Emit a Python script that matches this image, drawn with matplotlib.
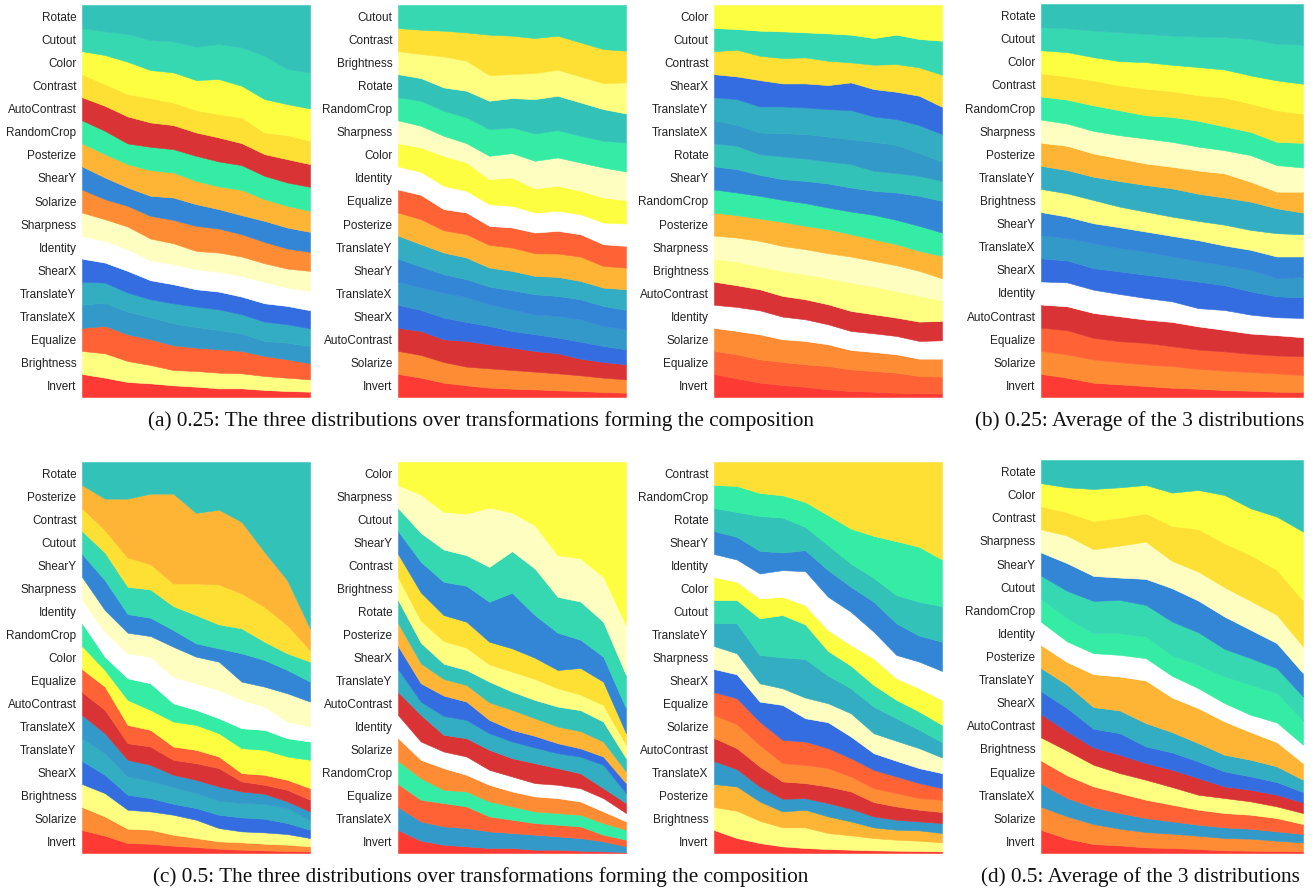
import numpy as np
import matplotlib
matplotlib.use("Agg")
import matplotlib.pyplot as plt

# Fixed colour for every transformation, shared by all panels
COLORS = {
    "Invert": "#fe3a35",
    "AutoContrast": "#d93335",
    "Equalize": "#fe6235",
    "Solarize": "#fe8c35",
    "Posterize": "#feb535",
    "Contrast": "#fee035",
    "Color": "#fefe40",
    "Brightness": "#fefe80",
    "Sharpness": "#fefec0",
    "Identity": "#ffffff",
    "ShearX": "#336de0",
    "ShearY": "#3385d6",
    "TranslateX": "#3399c8",
    "TranslateY": "#33adc2",
    "Rotate": "#33c2b8",
    "Cutout": "#35d8b0",
    "RandomCrop": "#35eca5",
}

steps = np.arange(11)

# Relative weight of each transformation over training, listed from the top of the stack down
dist_a1 = {
    "Rotate":       [69, 79, 87, 105, 109, 125, 117, 127, 152, 192, 202],
    "Cutout":       [69, 71, 83, 90, 93, 100, 105, 115, 130, 105, 108],
    "Color":        [69, 87, 97, 84, 90, 90, 105, 95, 100, 93, 97],
    "Contrast":     [69, 65, 67, 73, 68, 67, 70, 77, 65, 72, 70],
    "AutoContrast": [69, 75, 81, 73, 72, 70, 72, 66, 65, 70, 68],
    "RandomCrop":   [69, 70, 62, 70, 70, 75, 75, 74, 70, 70, 72],
    "Posterize":    [69, 70, 70, 77, 75, 70, 68, 76, 65, 65, 63],
    "ShearY":       [69, 65, 55, 60, 67, 65, 58, 57, 63, 63, 60],
    "Solarize":     [69, 60, 62, 68, 70, 75, 72, 67, 64, 60, 57],
    "Sharpness":    [69, 65, 68, 65, 63, 55, 58, 58, 56, 57, 60],
    "Identity":     [69, 65, 65, 60, 60, 60, 59, 62, 64, 55, 58],
    "ShearX":       [69, 60, 65, 57, 57, 52, 53, 53, 55, 55, 54],
    "TranslateY":   [69, 60, 57, 53, 60, 61, 62, 57, 58, 55, 53],
    "TranslateX":   [69, 70, 68, 67, 66, 62, 58, 53, 45, 50, 52],
    "Equalize":     [69, 82, 80, 77, 74, 70, 70, 67, 60, 55, 48],
    "Brightness":   [69, 73, 63, 55, 46, 47, 47, 45, 42, 40, 37],
    "Invert":       [69, 58, 45, 41, 35, 31, 26, 26, 21, 18, 16],
}

dist_a2 = {
    "Cutout":       [69, 74, 77, 82, 89, 92, 99, 92, 112, 132, 137],
    "Contrast":     [69, 73, 77, 85, 121, 115, 105, 102, 102, 102, 95],
    "Brightness":   [69, 72, 93, 90, 77, 72, 78, 78, 78, 78, 93],
    "Rotate":       [69, 68, 70, 80, 85, 88, 103, 103, 100, 95, 87],
    "RandomCrop":   [69, 75, 75, 77, 80, 77, 82, 82, 80, 80, 87],
    "Sharpness":    [69, 65, 60, 58, 70, 73, 83, 85, 85, 90, 86],
    "Color":        [69, 73, 90, 85, 75, 85, 72, 75, 70, 75, 70],
    "Identity":     [69, 69, 70, 65, 65, 65, 60, 60, 60, 65, 67],
    "Equalize":     [69, 73, 63, 65, 57, 60, 62, 68, 67, 65, 65],
    "Posterize":    [69, 75, 67, 70, 68, 70, 68, 70, 73, 65, 65],
    "TranslateY":   [69, 67, 65, 65, 57, 58, 55, 57, 55, 55, 62],
    "ShearY":       [69, 63, 55, 53, 53, 57, 60, 60, 60, 60, 58],
    "TranslateX":   [69, 67, 75, 75, 65, 65, 60, 65, 67, 60, 60],
    "ShearX":       [69, 63, 65, 57, 55, 50, 50, 47, 51, 48, 45],
    "AutoContrast": [69, 72, 68, 77, 72, 67, 62, 60, 50, 47, 45],
    "Solarize":     [69, 68, 62, 56, 58, 56, 53, 51, 47, 43, 40],
    "Invert":       [69, 58, 43, 35, 28, 25, 23, 20, 18, 15, 13],
}

dist_a3 = {
    "Color":        [69, 72, 77, 79, 82, 85, 89, 99, 89, 102, 107],
    "Cutout":       [69, 62, 75, 80, 75, 82, 83, 80, 88, 85, 102],
    "Contrast":     [69, 80, 73, 76, 78, 73, 60, 73, 83, 85, 96],
    "ShearX":       [69, 68, 79, 69, 72, 72, 83, 82, 82, 88, 82],
    "TranslateY":   [69, 77, 78, 80, 80, 82, 87, 76, 77, 84, 82],
    "TranslateX":   [69, 63, 65, 70, 73, 75, 75, 87, 85, 68, 58],
    "Rotate":       [69, 70, 62, 68, 67, 66, 70, 60, 58, 60, 60],
    "ShearY":       [69, 70, 63, 62, 67, 72, 72, 72, 82, 90, 95],
    "RandomCrop":   [69, 68, 68, 66, 68, 65, 68, 73, 73, 75, 70],
    "Posterize":    [69, 67, 67, 72, 70, 72, 67, 65, 63, 60, 67],
    "Sharpness":    [69, 72, 77, 75, 75, 75, 78, 77, 77, 75, 66],
    "Brightness":   [69, 71, 68, 75, 75, 78, 85, 83, 80, 77, 62],
    "AutoContrast": [69, 65, 63, 62, 60, 60, 60, 57, 55, 58, 58],
    "Identity":     [69, 72, 72, 68, 65, 60, 57, 56, 55, 53, 55],
    "Solarize":     [69, 70, 75, 68, 70, 65, 58, 57, 55, 52, 54],
    "Equalize":     [69, 72, 70, 69, 67, 70, 65, 62, 60, 52, 50],
    "Invert":       [69, 56, 43, 36, 31, 23, 18, 16, 13, 11, 11],
}

dist_b = {
    "Rotate":       [69, 73, 80, 85, 90, 95, 98, 100, 105, 120, 122],
    "Cutout":       [69, 72, 80, 87, 85, 88, 92, 98, 110, 110, 118],
    "Color":        [69, 73, 70, 73, 80, 79, 85, 84, 85, 90, 90],
    "Contrast":     [69, 70, 75, 75, 80, 78, 77, 88, 85, 95, 88],
    "RandomCrop":   [69, 72, 77, 75, 70, 75, 78, 72, 70, 70, 74],
    "Sharpness":    [69, 67, 68, 70, 75, 75, 72, 70, 80, 80, 73],
    "Posterize":    [69, 73, 70, 68, 65, 65, 70, 73, 60, 50, 63],
    "TranslateY":   [69, 70, 70, 77, 80, 85, 82, 82, 85, 75, 65],
    "Brightness":   [69, 70, 70, 62, 60, 58, 58, 63, 60, 70, 67],
    "ShearY":       [69, 65, 60, 63, 60, 62, 63, 60, 60, 65, 62],
    "TranslateX":   [69, 67, 75, 70, 70, 65, 62, 60, 65, 55, 61],
    "ShearX":       [69, 66, 65, 68, 70, 70, 80, 75, 70, 63, 62],
    "Identity":     [69, 72, 70, 67, 65, 62, 55, 60, 57, 54, 58],
    "AutoContrast": [69, 72, 75, 75, 70, 73, 70, 65, 61, 61, 57],
    "Equalize":     [69, 73, 65, 63, 65, 60, 58, 58, 55, 54, 57],
    "Solarize":     [69, 70, 70, 67, 65, 65, 60, 59, 56, 55, 51],
    "Invert":       [69, 58, 43, 38, 33, 28, 25, 21, 19, 16, 15],
}

dist_c1 = {
    "Rotate":       [69, 110, 110, 95, 95, 153, 143, 180, 270, 355, 500],
    "Posterize":    [69, 95, 177, 212, 270, 212, 225, 215, 165, 135, 65],
    "Contrast":     [69, 67, 88, 76, 68, 95, 120, 105, 105, 85, 35],
    "Cutout":       [69, 83, 82, 85, 72, 85, 72, 75, 55, 50, 60],
    "ShearY":       [69, 90, 56, 55, 50, 40, 40, 85, 80, 70, 60],
    "Sharpness":    [69, 65, 62, 62, 90, 80, 85, 55, 60, 85, 75],
    "Identity":     [69, 75, 75, 80, 80, 80, 85, 85, 70, 50, 45],
    "RandomCrop":   [69, 40, 65, 80, 55, 45, 45, 60, 60, 55, 55],
    "Color":        [69, 50, 75, 60, 75, 75, 70, 75, 75, 70, 85],
    "Equalize":     [69, 70, 55, 50, 40, 40, 35, 25, 30, 30, 35],
    "AutoContrast": [69, 70, 50, 55, 45, 50, 55, 30, 27, 35, 35],
    "TranslateX":   [69, 60, 50, 48, 37, 40, 43, 35, 30, 20, 27],
    "TranslateY":   [69, 65, 55, 52, 50, 45, 42, 43, 45, 45, 28],
    "ShearX":       [69, 55, 45, 40, 33, 35, 40, 42, 41, 33, 25],
    "Brightness":   [69, 70, 57, 55, 60, 55, 40, 33, 34, 32, 25],
    "Solarize":     [69, 58, 43, 42, 33, 27, 22, 22, 20, 19, 15],
    "Invert":       [69, 52, 30, 28, 22, 18, 13, 10, 8, 6, 5],
}

dist_c2 = {
    "Color":        [69, 98, 150, 155, 137, 152, 190, 280, 290, 345, 490],
    "Sharpness":    [69, 115, 113, 125, 178, 116, 130, 125, 130, 135, 150],
    "Cutout":       [69, 87, 97, 92, 105, 125, 140, 108, 115, 105, 100],
    "ShearY":       [69, 92, 100, 108, 120, 167, 128, 112, 85, 75, 75],
    "Contrast":     [69, 85, 78, 78, 68, 70, 64, 55, 80, 70, 35],
    "Brightness":   [69, 66, 68, 67, 52, 60, 63, 55, 47, 50, 40],
    "Rotate":       [69, 62, 46, 45, 62, 55, 55, 60, 63, 60, 40],
    "Posterize":    [69, 60, 50, 50, 53, 60, 53, 50, 52, 45, 35],
    "ShearX":       [69, 55, 61, 55, 40, 35, 35, 30, 25, 25, 30],
    "TranslateY":   [69, 40, 57, 55, 50, 50, 47, 45, 50, 70, 30],
    "AutoContrast": [69, 80, 50, 55, 60, 55, 60, 50, 45, 30, 30],
    "Identity":     [69, 55, 50, 55, 45, 45, 40, 40, 40, 40, 25],
    "Solarize":     [69, 55, 65, 50, 50, 45, 45, 45, 40, 35, 25],
    "RandomCrop":   [69, 65, 40, 45, 45, 40, 35, 35, 35, 35, 30],
    "Equalize":     [69, 65, 70, 65, 45, 40, 35, 35, 35, 20, 20],
    "TranslateX":   [69, 58, 55, 55, 50, 45, 45, 40, 38, 30, 17],
    "Invert":       [69, 37, 25, 20, 15, 15, 10, 10, 7, 5, 3],
}

dist_c3 = {
    "Contrast":     [69, 72, 93, 100, 120, 160, 200, 222, 238, 255, 293],
    "RandomCrop":   [69, 78, 69, 67, 75, 90, 105, 126, 162, 165, 140],
    "Rotate":       [69, 75, 105, 105, 70, 75, 70, 72, 85, 102, 107],
    "ShearY":       [69, 68, 68, 53, 63, 80, 75, 90, 95, 78, 88],
    "Identity":     [69, 67, 75, 80, 102, 100, 100, 80, 70, 80, 87],
    "Color":        [69, 55, 60, 55, 58, 63, 62, 80, 65, 70, 75],
    "Cutout":       [69, 70, 110, 127, 104, 74, 68, 65, 55, 55, 52],
    "TranslateY":   [69, 90, 85, 93, 116, 83, 75, 80, 68, 55, 46],
    "Sharpness":    [69, 63, 55, 50, 62, 57, 70, 60, 60, 60, 47],
    "ShearX":       [69, 72, 60, 105, 70, 78, 65, 50, 47, 45, 45],
    "Equalize":     [69, 78, 70, 70, 70, 60, 55, 55, 50, 45, 35],
    "Solarize":     [69, 72, 65, 55, 55, 55, 45, 42, 40, 35, 37],
    "AutoContrast": [69, 63, 60, 52, 45, 50, 52, 43, 40, 35, 33],
    "TranslateX":   [69, 52, 45, 38, 35, 40, 38, 33, 30, 27, 30],
    "Posterize":    [69, 73, 58, 48, 53, 50, 42, 32, 30, 31, 28],
    "Brightness":   [69, 82, 67, 57, 62, 48, 43, 37, 33, 31, 27],
    "Invert":       [69, 45, 30, 20, 15, 12, 10, 8, 7, 6, 5],
}

dist_d = {
    "Rotate":       [69, 82, 87, 82, 75, 98, 90, 105, 145, 170, 215],
    "Color":        [69, 75, 96, 91, 85, 100, 117, 145, 140, 160, 207],
    "Contrast":     [69, 70, 85, 84, 85, 105, 128, 132, 138, 135, 138],
    "Sharpness":    [69, 83, 80, 96, 112, 82, 87, 88, 87, 85, 80],
    "ShearY":       [69, 83, 75, 67, 78, 100, 95, 97, 85, 75, 70],
    "Cutout":       [69, 82, 97, 100, 95, 102, 98, 83, 80, 75, 72],
    "RandomCrop":   [69, 70, 60, 65, 65, 61, 70, 80, 90, 88, 73],
    "Identity":     [69, 62, 63, 65, 67, 65, 60, 55, 52, 59, 55],
    "Posterize":    [69, 68, 99, 102, 128, 104, 105, 100, 83, 73, 50],
    "TranslateY":   [69, 70, 65, 68, 70, 61, 55, 50, 50, 47, 37],
    "ShearX":       [69, 70, 56, 65, 50, 52, 50, 45, 40, 38, 31],
    "AutoContrast": [69, 58, 52, 55, 50, 52, 50, 35, 35, 35, 32],
    "Brightness":   [69, 74, 65, 60, 60, 53, 45, 45, 40, 35, 33],
    "Equalize":     [69, 68, 63, 60, 55, 50, 45, 43, 42, 40, 30],
    "TranslateX":   [69, 55, 50, 47, 42, 37, 33, 32, 30, 28, 25],
    "Solarize":     [69, 67, 60, 50, 46, 43, 40, 37, 36, 31, 27],
    "Invert":       [69, 43, 27, 23, 17, 15, 12, 8, 7, 6, 5],
}

captions = [
    "(a) 0.25: The three distributions over transformations forming the composition",
    "(b) 0.25: Average of the 3 distributions",
    "(c) 0.5: The three distributions over transformations forming the composition",
    "(d) 0.5: Average of the 3 distributions",
]

W, H = 1315, 888
fig = plt.figure(figsize=(W / 100, H / 100), dpi=100)


def px_axes(x0, y0, x1, y1):
    return fig.add_axes([x0 / W, 1 - y1 / H, (x1 - x0) / W, (y1 - y0) / H])


def draw_stack(ax, dist):
    names = list(dist.keys())              # top of stack first
    vals = np.array([dist[n] for n in names], dtype=float)
    shares = vals / vals.sum(axis=0)
    bottom_up = names[::-1]
    data = shares[::-1]
    cols = [COLORS[n] for n in bottom_up]
    polys = ax.stackplot(steps, data, colors=cols, linewidth=0.4)
    for p, c in zip(polys, cols):
        p.set_edgecolor(c)
    ax.set_xlim(steps[0], steps[-1])
    ax.set_ylim(0, 1)
    n = len(names)
    ax.set_yticks([1 - (i + 0.5) / n for i in range(n)])
    ax.set_yticklabels(names, fontsize=8.5, family="Liberation Sans", color="#222222")
    ax.tick_params(axis="y", length=0, pad=4)
    ax.set_xticks([])
    for s in ax.spines.values():
        s.set_visible(False)


panels = [
    (dist_a1, (82, 5, 310, 397)),
    (dist_a2, (398, 5, 626, 397)),
    (dist_a3, (714, 5, 942, 397)),
    (dist_b, (1041, 4, 1303, 397)),
    (dist_c1, (82, 462, 310, 853)),
    (dist_c2, (398, 462, 626, 853)),
    (dist_c3, (714, 462, 942, 853)),
    (dist_d, (1041, 460, 1303, 853)),
]

for dist, box in panels:
    ax = px_axes(*box)
    draw_stack(ax, dist)

cap_pos = [(481, 421), (1140, 421), (481, 877), (1140, 877)]
for text, (cx, cy) in zip(captions, cap_pos):
    fig.text(cx / W, 1 - cy / H, text, ha="center", va="center",
             family="Liberation Serif", fontsize=15.3, color="#111111")

fig.savefig("out.png", dpi=100, facecolor="white")
